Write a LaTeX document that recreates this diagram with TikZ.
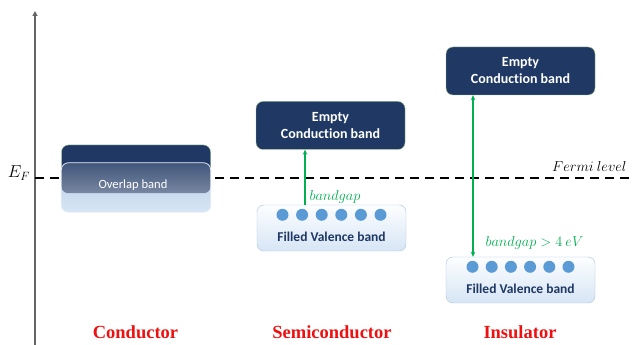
\documentclass[tikz,border=0pt]{standalone}
\usepackage{fontspec}
\setmainfont[Ligatures=NoCommon]{Carlito}
\newfontfamily\typefont{Liberation Serif}
\usetikzlibrary{arrows.meta,positioning}

\definecolor{navy}{HTML}{1F3864}
\definecolor{bandedge}{HTML}{A9C1E2}
\definecolor{cbedge}{HTML}{9CC17E}
\definecolor{vbtop}{HTML}{FDFEFF}
\definecolor{vbbot}{HTML}{D6E5F5}
\definecolor{dotblue}{HTML}{5B9BD5}
\definecolor{gapgreen}{HTML}{00B050}
\definecolor{typered}{HTML}{EE1111}

\begin{document}
\begin{tikzpicture}[
    x=1pt, y=1pt,
    cband/.style={draw=cbedge, fill=navy, rounded corners=7pt, minimum width=149pt,
      minimum height=48pt, text=white, align=center,
      font=\bfseries\fontsize{14}{17}\selectfont},
    vband/.style={draw=bandedge, top color=vbtop, bottom color=vbbot, rounded corners=7pt,
      minimum width=149pt, minimum height=46pt},
    vtext/.style={text=navy, font=\bfseries\fontsize{13.5}{15}\selectfont},
    electron/.style={circle, fill=dotblue, minimum size=12pt, inner sep=0pt},
    gap/.style={draw=gapgreen, line width=1.1pt, -{Stealth[length=5pt,width=4.5pt]}},
    gaplabel/.style={text=gapgreen, font=\fontsize{13.5}{15}\selectfont, anchor=west},
    kind/.style={text=typered, font=\typefont\bfseries\fontsize{18.5}{21}\selectfont}
  ]
    \useasboundingbox[fill=white] (0,0) rectangle (632,345);

    % energy axis and Fermi level
    \coordinate (axis-low) at (35,0);
    \coordinate (axis-high) at (35,334);
    \draw[gray!80!black, line width=1.6pt, -{Triangle[length=5pt,width=5pt]}] (axis-low) -- (axis-high);
    \coordinate (ef-left) at (35,167);
    \coordinate (ef-right) at (632,167);
    \draw[line width=2.3pt, dash pattern=on 9pt off 6pt] (ef-left) -- (ef-right);
    \node (ef) at (19,172) {\fontsize{17}{19}\selectfont$E_F$};
    \node[anchor=east] (fermi) at (630,178) {\fontsize{14.5}{16}\selectfont$Fermi\ level$};

    % conductor: the two bands overlap
    \node[cband, minimum height=48pt] (c-cb) at (136,176) {};
    \node[vband, draw=none, top color=bandedge!80!white, bottom color=vbbot, minimum height=49pt] (c-vb) at (136,157.5) {};
    \begin{scope}
      \path[clip, rounded corners=7pt] (c-cb.south west) rectangle (c-cb.north east);
      \shade[top color=navy!85!white, bottom color=navy!45!white, rounded corners=7pt]
        (c-vb.south west) rectangle (c-vb.north east);
    \end{scope}
    \draw[white!70!bandedge, rounded corners=7pt, line width=0.8pt] (c-vb.south west) rectangle (c-vb.north east);
    \node[text=white, font=\fontsize{12.6}{14}\selectfont] (c-text) at (133,160) {Overlap band};

    % semiconductor
    \node[cband] (s-cb) at (330.5,219.5) {Empty\\Conduction band};
    \node[vband] (s-vb) at (331.5,117) {};
    \node[vtext] (s-text) at ([yshift=-9pt]s-vb.center) {Filled Valence band};
    \foreach \i in {0,...,5}
      \node[electron] (s-e\i) at ([xshift=(\i-2.5)*19.6pt, yshift=-10pt]s-vb.north) {};
    \draw[gap] (s-vb.north -| 305,0) -- (s-cb.south -| 305,0);
    \node[gaplabel] (s-gap) at (306,148) {$bandgap$};

    % insulator
    \node[cband] (i-cb) at (520.5,274) {Empty\\Conduction band};
    \node[vband] (i-vb) at (520.5,65) {};
    \node[vtext] (i-text) at ([yshift=-9pt]i-vb.center) {Filled Valence band};
    \foreach \i in {0,...,5}
      \node[electron] (i-e\i) at ([xshift=(\i-2.5)*19.2pt, yshift=-10pt]i-vb.north) {};
    \draw[gap, {Stealth[length=5pt,width=4.5pt]}-{Stealth[length=5pt,width=4.5pt]}]
      (i-vb.north -| 473,0) -- (i-cb.south -| 473,0);
    \node[gaplabel] (i-gap) at (482,102) {$bandgap > 4\ eV$};

    % material names
    \node[kind] (conductor) at (135.5,13) {Conductor};
    \node[kind] (semiconductor) at (332,13) {Semiconductor};
    \node[kind] (insulator) at (520,13) {Insulator};
  \end{tikzpicture}
\end{document}
